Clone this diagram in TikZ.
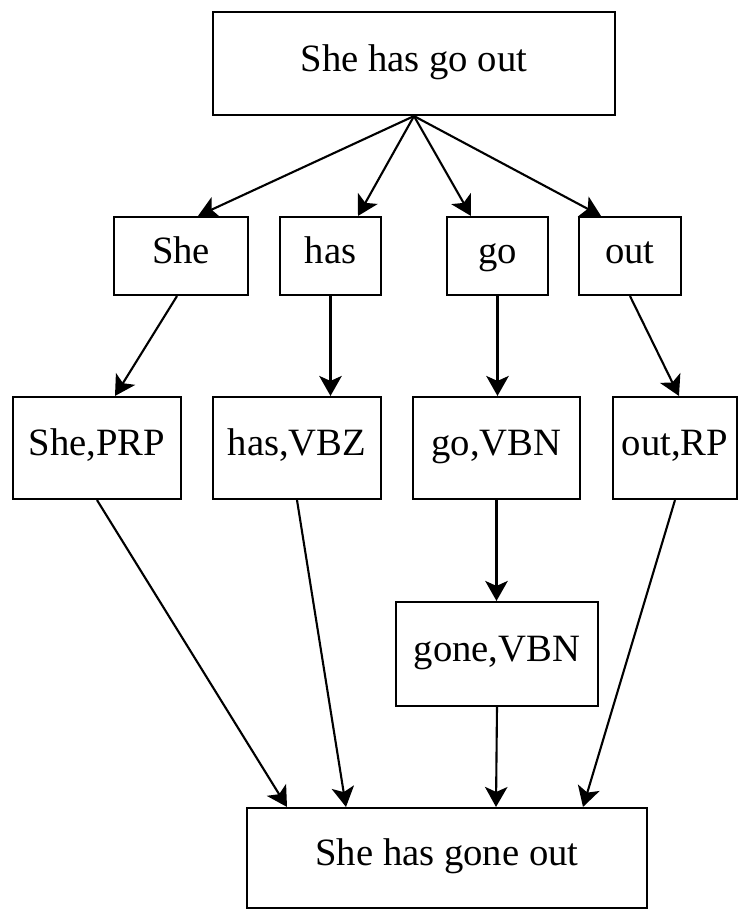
\documentclass[tikz,border=0pt]{standalone}
\usepackage{fontspec}
\setmainfont{Liberation Serif}
\usetikzlibrary{arrows.meta}

\begin{document}
\begin{tikzpicture}[
    caja/.style={draw, line width=1.2pt, inner sep=0pt, text height=1.05em, text depth=0.15em, font=\fontsize{22}{26}\selectfont},
    flecha/.style={line width=1.2pt, -{Stealth[length=0.4cm, width=0.45cm, inset=0.1cm]}}
]
    \useasboundingbox (0,0) rectangle (14.78,-18.2);

    % Oración de entrada
    \node[caja, minimum width=8.04cm, minimum height=2.06cm] (frase) at (8.28,-1.27) {She has go out};

    % Palabras
    \node[caja, minimum width=2.68cm, minimum height=1.56cm] (she) at (3.62,-5.12) {She};
    \node[caja, minimum width=2.02cm, minimum height=1.56cm] (has) at (6.61,-5.12) {has};
    \node[caja, minimum width=2.02cm, minimum height=1.56cm] (go) at (9.95,-5.12) {go};
    \node[caja, minimum width=2.04cm, minimum height=1.56cm] (out) at (12.6,-5.12) {out};

    % Etiquetas
    \node[caja, minimum width=3.36cm, minimum height=2.04cm] (shePRP) at (1.94,-8.96) {She,PRP};
    \node[caja, minimum width=3.36cm, minimum height=2.04cm] (hasVBZ) at (5.94,-8.96) {has,VBZ};
    \node[caja, minimum width=3.34cm, minimum height=2.04cm] (goVBN) at (9.93,-8.96) {go,VBN};
    \node[caja, minimum width=2.48cm, minimum height=2.04cm] (outRP) at (13.5,-8.96) {out,RP};

    % Corrección
    \node[caja, minimum width=4.04cm, minimum height=2.08cm] (goneVBN) at (9.94,-13.08) {gone,VBN};

    % Oración corregida
    \node[caja, minimum width=8cm, minimum height=2cm] (salida) at (8.94,-17.16) {She has gone out};

    % Flechas
    \draw[flecha] (frase.south) -- ([xshift=0.34cm]she.north);
    \draw[flecha] (frase.south) -- ([xshift=0.55cm]has.north);
    \draw[flecha] (frase.south) -- ([xshift=-0.53cm]go.north);
    \draw[flecha] (frase.south) -- ([xshift=-0.58cm]out.north);

    \draw[flecha] ([xshift=-0.08cm]she.south) -- ([xshift=0.36cm]shePRP.north);
    \draw[flecha] (has.south) -- (has.south |- hasVBZ.north);
    \draw[flecha] (go.south) -- (go.south |- goVBN.north);
    \draw[flecha] (out.south) -- ([xshift=0.08cm]outRP.north);

    \draw[flecha] (goVBN.south) -- (goVBN.south |- goneVBN.north);

    \draw[flecha] (shePRP.south) -- ([xshift=-3.2cm]salida.north);
    \draw[flecha] (hasVBZ.south) -- ([xshift=-2.02cm]salida.north);
    \draw[flecha] (goneVBN.south) -- ([xshift=0.98cm]salida.north);
    \draw[flecha] (outRP.south) -- ([xshift=2.72cm]salida.north);
\end{tikzpicture}
\end{document}
